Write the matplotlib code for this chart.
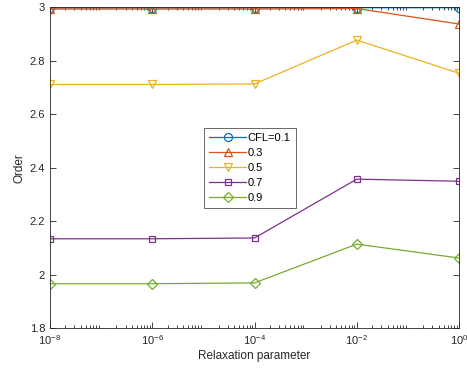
import matplotlib
matplotlib.use("Agg")
import matplotlib.pyplot as plt
from matplotlib.ticker import LogLocator, NullFormatter

plt.rcParams['font.family'] = ['Liberation Sans', 'DejaVu Sans']

relax = [1e-8, 1e-6, 1e-4, 1e-2, 1e0]
order_01 = [2.997, 2.997, 2.997, 2.998, 2.998]
order_03 = [2.993, 2.993, 2.993, 2.995, 2.937]
order_05 = [2.711, 2.711, 2.713, 2.877, 2.753]
order_07 = [2.134, 2.134, 2.137, 2.357, 2.349]
order_09 = [1.966, 1.966, 1.969, 2.114, 2.062]
labels = ['CFL=0.1', '0.3', '0.5', '0.7', '0.9']

series = [order_01, order_03, order_05, order_07, order_09]
markers = ['o', '^', 'v', 's', 'D']
colors = ['#0072BD', '#D95319', '#EDB120', '#7E2F8E', '#77AC30']
msizes = [5.8, 6, 6, 4.5, 5]

fig = plt.figure(figsize=(4.67, 3.78), dpi=100)
ax = fig.add_axes([0.107, 0.132, 0.876, 0.849])

for y, m, c, ms, lab in zip(series, markers, colors, msizes, labels):
    ax.plot(relax, y, marker=m, color=c, markersize=ms, markerfacecolor='none',
            linewidth=0.9, markeredgewidth=0.9, label=lab)

ax.set_xscale('log')
ax.set_xlim(1e-8, 1e0)
ax.set_ylim(1.8, 3.0)
ax.set_xticks([1e-8, 1e-6, 1e-4, 1e-2, 1e0])
ax.xaxis.set_minor_locator(LogLocator(base=10, subs=range(2, 10), numticks=20))
ax.xaxis.set_minor_formatter(NullFormatter())
ax.set_yticks([1.8, 2.0, 2.2, 2.4, 2.6, 2.8, 3.0])
ax.set_yticklabels(['1.8', '2', '2.2', '2.4', '2.6', '2.8', '3'])

ax.tick_params(which='both', direction='in', top=True, right=True,
               labelsize=8, colors='#262626', width=0.6)
ax.tick_params(which='major', length=4)
ax.tick_params(which='minor', length=2)
for s in ax.spines.values():
    s.set_color('#262626')
    s.set_linewidth(0.6)

ax.set_xlabel('Relaxation parameter', fontsize=8.5, color='#262626', labelpad=2)
ax.set_ylabel('Order', fontsize=8.5, color='#262626', labelpad=3)

leg = ax.legend(loc='center', bbox_to_anchor=(0.489, 0.498), fontsize=8,
                frameon=True, fancybox=False, edgecolor='#262626',
                handlelength=3.3, handletextpad=0.15, borderpad=0.45,
                labelspacing=0.45, borderaxespad=0)
leg.get_frame().set_linewidth(0.6)

fig.savefig('out.png', dpi=100)
